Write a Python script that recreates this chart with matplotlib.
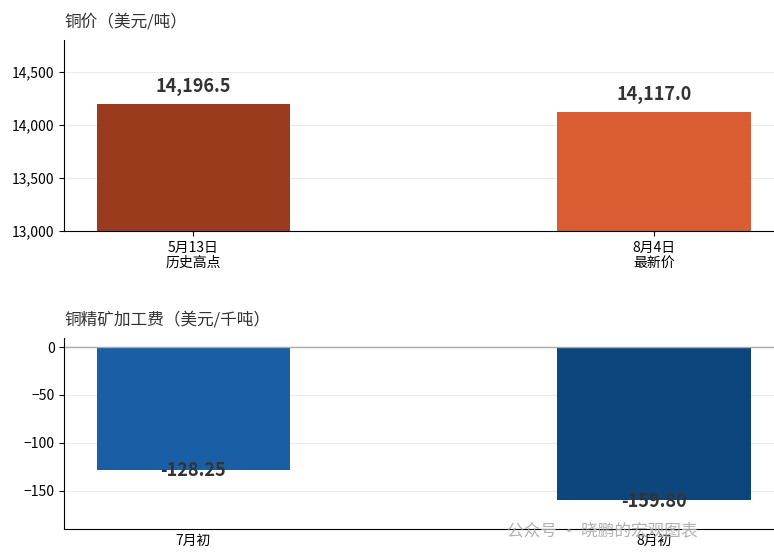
import matplotlib
matplotlib.use("Agg")
import matplotlib.pyplot as plt

plt.rcParams['font.family'] = ['Noto Sans CJK SC', 'DejaVu Sans']

top_cats = ["5月13日\n历史高点", "8月4日\n最新价"]
top_vals = [14196.5, 14117.0]
top_labels = ["14,196.5", "14,117.0"]
top_colors = ["#9B3B1E", "#DA5C33"]

bot_cats = ["7月初", "8月初"]
bot_vals = [-128.25, -159.80]
bot_labels = ["-128.25", "-159.80"]
bot_colors = ["#1A5FA5", "#0D467D"]

fig = plt.figure(figsize=(7.74, 5.6), dpi=100)
ax1 = fig.add_axes([0.083, 0.5875, 0.917, 0.341])
ax2 = fig.add_axes([0.083, 0.0554, 0.917, 0.341])

x = [0, 1]
w = 0.42
for ax in (ax1, ax2):
    ax.set_xlim(-0.28, 1.26)
    ax.spines['top'].set_visible(False)
    ax.spines['right'].set_visible(False)
    ax.grid(axis='y', color='#EBEBEB', linewidth=0.8)
    ax.set_axisbelow(True)
    ax.tick_params(labelsize=10)

ax1.bar(x, [v - 13000 for v in top_vals], bottom=13000, width=w, color=top_colors)
ax1.set_ylim(13000, 14800)
ax1.set_yticks([13000, 13500, 14000, 14500])
ax1.set_yticklabels(["13,000", "13,500", "14,000", "14,500"])
ax1.set_xticks(x)
ax1.set_xticklabels(top_cats, linespacing=1.1)
for xi, v, l in zip(x, top_vals, top_labels):
    ax1.text(xi, v + 80, l, ha='center', va='bottom', fontsize=13, fontweight='bold', color='#333333')
ax1.set_title("铜价（美元/吨）", loc='left', fontsize=12, x=0.0, pad=10, color='#333333')

ax2.bar(x, bot_vals, width=w, color=bot_colors)
ax2.axhline(0, color='#AAAAAA', linewidth=1)
ax2.set_ylim(-190, 9.5)
ax2.set_yticks([0, -50, -100, -150])
ax2.set_xticks(x)
ax2.set_xticklabels(bot_cats)
ax2.tick_params(axis='x', length=0)
ax2.spines['bottom'].set_visible(True)
for xi, v, l in zip(x, bot_vals, bot_labels):
    ax2.text(xi, v - 1, l, ha='center', va='center', fontsize=13, fontweight='bold', color='#333333')
ax2.set_title("铜精矿加工费（美元/千吨）", loc='left', fontsize=12, pad=10, color='#333333')

fig.text(0.655, 0.045, "公众号 · 晓鹏的宏观图表", fontsize=12, color='#AAAAAA', alpha=0.9)

fig.savefig("out.png", dpi=100)
